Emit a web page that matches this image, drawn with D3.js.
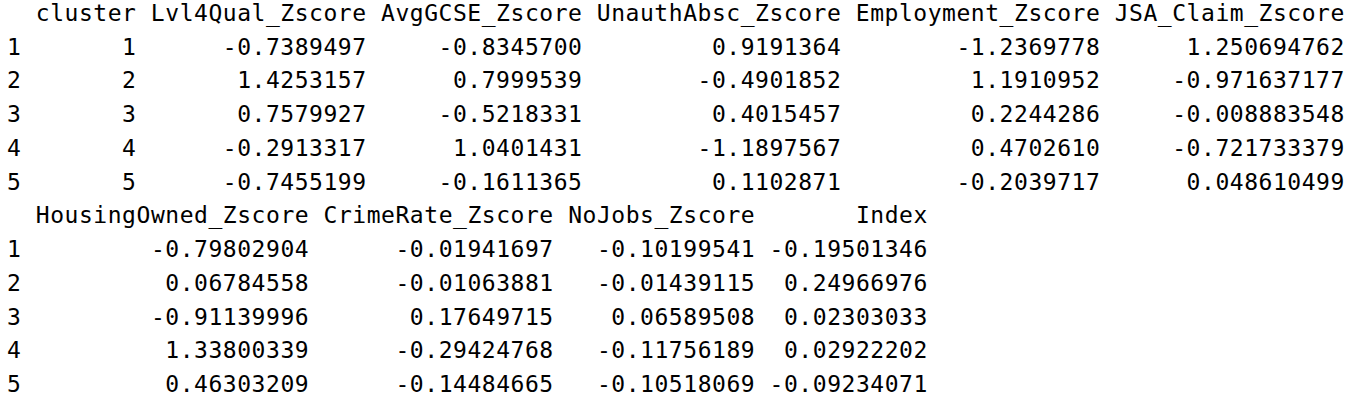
<!DOCTYPE html>
<html>
<head>
<meta charset="utf-8">
<script src="https://cdn.jsdelivr.net/npm/d3@7"></script>
<style>
  body { margin: 0; background: #fff; }
  text { font-family: "DejaVu Sans Mono", monospace; font-size: 23px; fill: #000; white-space: pre; }
</style>
</head>
<body>
<div id="chart"></div>
<script>
const clusters = [1, 2, 3, 4, 5];
const cols1 = ["Lvl4Qual_Zscore", "AvgGCSE_Zscore", "UnauthAbsc_Zscore", "Employment_Zscore", "JSA_Claim_Zscore"];
const cols2 = ["HousingOwned_Zscore", "CrimeRate_Zscore", "NoJobs_Zscore", "Index"];
const lvl4Qual = [-0.7389497, 1.4253157, 0.7579927, -0.2913317, -0.7455199];
const avgGCSE = [-0.8345700, 0.7999539, -0.5218331, 1.0401431, -0.1611365];
const unauthAbsc = [0.9191364, -0.4901852, 0.4015457, -1.1897567, 0.1102871];
const employment = [-1.2369778, 1.1910952, 0.2244286, 0.4702610, -0.2039717];
const jsaClaim = [1.250694762, -0.971637177, -0.008883548, -0.721733379, 0.048610499];
const housingOwned = [-0.79802904, 0.06784558, -0.91139996, 1.33800339, 0.46303209];
const crimeRate = [-0.01941697, -0.01063881, 0.17649715, -0.29424768, -0.14484665];
const noJobs = [-0.10199541, -0.01439115, 0.06589508, -0.11756189, -0.10518069];
const indexVals = [-0.19501346, 0.24966976, 0.02303033, 0.02922202, -0.09234071];

const width = 1358, height = 406;
const charW = 14.38;

const pad = (s, n) => " ".repeat(Math.max(0, n - s.length)) + s;
const fmt = (v, d) => (v < 0 ? "-" : " ") + Math.abs(v).toFixed(d);

function block(cols, series, decimals, withCluster) {
  const names = withCluster ? ["cluster"].concat(cols) : cols;
  const cells = clusters.map((c, i) => {
    const vals = series.map((s, j) => fmt(s[i], decimals[j]));
    return withCluster ? [String(c)].concat(vals) : vals;
  });
  const widths = names.map((n, j) => Math.max(n.length, ...cells.map(r => r[j].length)));
  const header = " " + names.map((n, j) => " " + pad(n, widths[j])).join("");
  const rows = cells.map((r, i) => String(i + 1) + r.map((v, j) => " " + pad(v, widths[j])).join(""));
  return [header].concat(rows);
}

const lines = block(cols1, [lvl4Qual, avgGCSE, unauthAbsc, employment, jsaClaim], [7, 7, 7, 7, 9], true)
  .concat(block(cols2, [housingOwned, crimeRate, noJobs, indexVals], [8, 8, 8, 8], false));

const x = d3.scaleLinear().domain([0, 93]).range([7, 7 + 93 * charW]);
const y = d3.scalePoint().domain(d3.range(lines.length)).range([21, 392]);

const svg = d3.select("#chart").append("svg")
  .attr("width", width).attr("height", height);

svg.selectAll("text").data(lines).enter().append("text")
  .attr("xml:space", "preserve")
  .attr("x", x(0))
  .attr("y", (d, i) => y(i))
  .attr("textLength", d => x(d.length) - x(0))
  .attr("lengthAdjust", "spacing")
  .text(d => d);
</script>
</body>
</html>
